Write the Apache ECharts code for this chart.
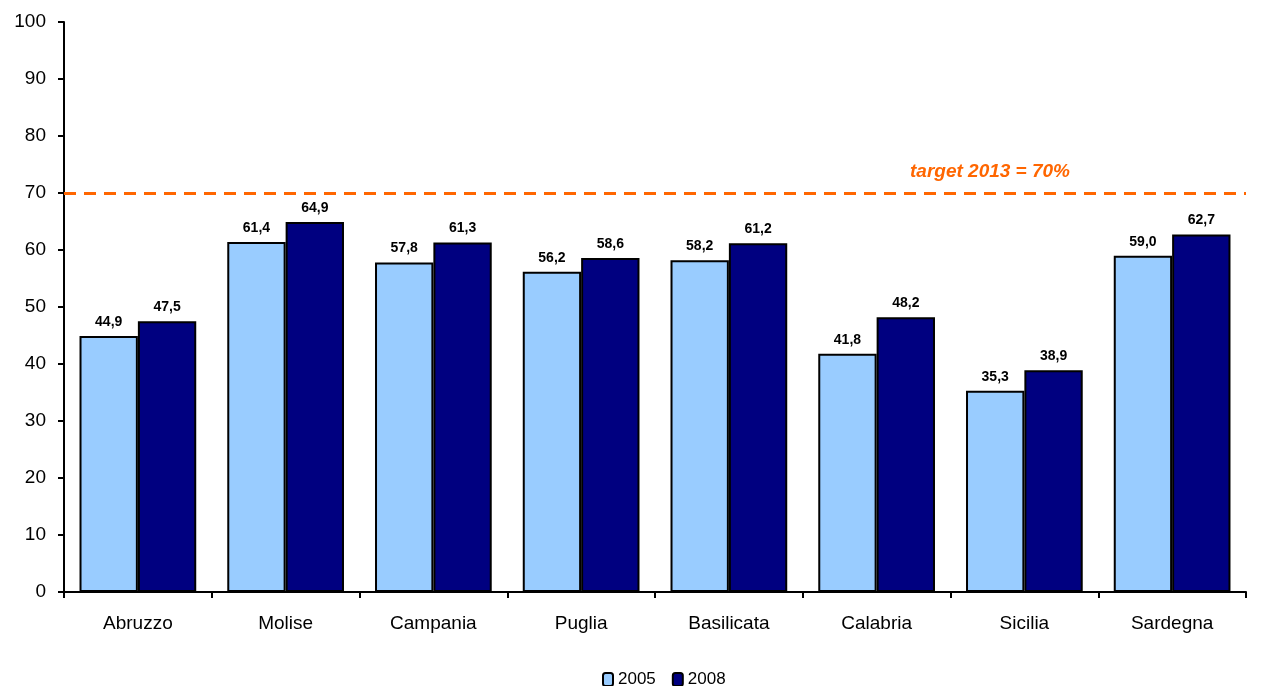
<!DOCTYPE html>
<html>
<head>
<meta charset="utf-8">
<script src="https://cdn.jsdelivr.net/npm/echarts@6/dist/echarts.min.js"></script>
<style>
html, body { margin: 0; padding: 0; background: #fff; }
#chart { width: 1265px; height: 686px; }
</style>
</head>
<body>
<div id="chart"></div>
<script>
const regions = ['Abruzzo', 'Molise', 'Campania', 'Puglia', 'Basilicata', 'Calabria', 'Sicilia', 'Sardegna'];
const y2005 = [44.9, 61.4, 57.8, 56.2, 58.2, 41.8, 35.3, 59.0];
const y2008 = [47.5, 64.9, 61.3, 58.6, 61.2, 48.2, 38.9, 62.7];
const target = 70;

const chart = echarts.init(document.getElementById('chart'));
const fmt = (p) => p.value.toFixed(1).replace('.', ',');
const labelStyle = {
    show: true,
    position: 'top',
    distance: 7,
    formatter: fmt,
    fontFamily: 'Liberation Sans, Arial, sans-serif',
    fontWeight: 'bold',
    fontSize: 14,
    color: '#000'
};

chart.setOption({
    animation: false,
    grid: { left: 64, top: 22, right: 19, bottom: 94 },
    legend: {
        top: 666,
        left: 597,
        itemWidth: 10,
        itemHeight: 13,
        itemGap: 16,
        textStyle: { fontFamily: 'Liberation Sans, Arial, sans-serif', fontSize: 17, color: '#000' },
        data: ['2005', '2008']
    },
    xAxis: {
        type: 'category',
        data: regions,
        axisLine: { lineStyle: { color: '#000', width: 2 } },
        axisTick: { show: true, length: 6, lineStyle: { color: '#000', width: 2 } },
        axisLabel: { fontFamily: 'Liberation Sans, Arial, sans-serif', fontSize: 19, color: '#000', margin: 22 }
    },
    yAxis: {
        type: 'value',
        min: 0,
        max: 100,
        interval: 10,
        splitLine: { show: false },
        axisLine: { show: true, lineStyle: { color: '#000', width: 2 } },
        axisTick: { show: true, length: 6, lineStyle: { color: '#000', width: 2 } },
        axisLabel: { fontFamily: 'Liberation Sans, Arial, sans-serif', fontSize: 19, color: '#000', margin: 18 }
    },
    graphic: [{
        type: 'text',
        left: 910,
        top: 162,
        style: {
            text: 'target 2013 = 70%',
            font: 'italic bold 19px "Liberation Sans", Arial, sans-serif',
            fill: '#FF6600'
        }
    }],
    series: [
        {
            name: '2005',
            type: 'bar',
            data: y2005,
            barGap: '0%',
            barCategoryGap: '21%',
            itemStyle: { color: '#99CCFF', borderColor: '#000', borderWidth: 2 },
            label: labelStyle,
            markLine: {
                silent: true,
                symbol: 'none',
                label: { show: false },
                lineStyle: { color: '#FF6600', width: 3, type: [12, 8] },
                data: [{ yAxis: target }]
            }
        },
        {
            name: '2008',
            type: 'bar',
            data: y2008,
            itemStyle: { color: '#000080', borderColor: '#000', borderWidth: 2 },
            label: labelStyle
        }
    ]
});
window.addEventListener('resize', function () {
    chart.resize();
});
</script>
</body>
</html>
